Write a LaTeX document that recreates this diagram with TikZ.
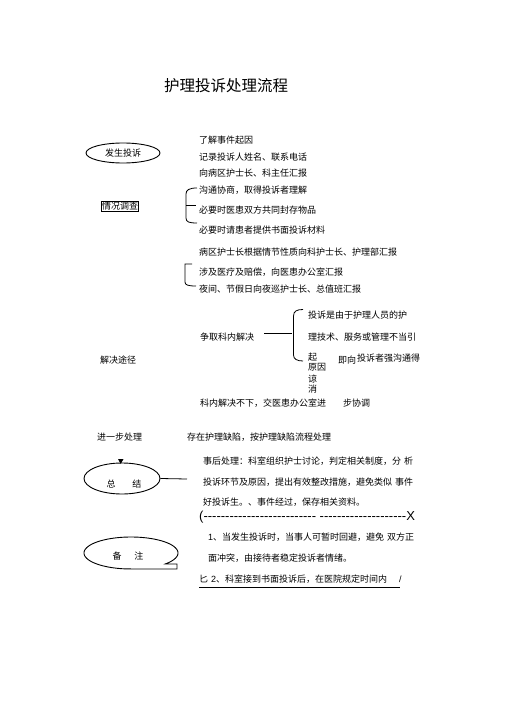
\documentclass[tikz,border=0pt]{standalone}
\usepackage{fontspec}
\setmainfont{Noto Sans CJK SC}
\newfontfamily\arialf{Liberation Sans}
\usetikzlibrary{shapes.geometric}
\begin{document}
\begin{tikzpicture}[x=1pt,y=-1pt,
  txt/.style={anchor=west,inner sep=0pt,font=\fontsize{9}{10}\selectfont},
  ln/.style={line width=0.8pt},
  oval/.style={ellipse,draw,line width=0.9pt,inner sep=0pt}]
\fill[white] (0,0) rectangle (505,714);
\useasboundingbox (0,0) rectangle (505,714);
% title
\node[inner sep=0pt,font=\fontsize{15.5}{16}\selectfont] (title) at (226,86) {护理投诉处理流程};
% left column
\node[oval,minimum width=74pt,minimum height=20pt,font=\fontsize{9}{10}\selectfont] (fasheng) at (123,153) {发生投诉};
\node[draw,line width=0.7pt,inner sep=0.8pt,font=\fontsize{9}{10}\selectfont] (qingkuang) at (120,206) {情况调查};
\node[txt] (jiejue) at (100,360) {解决途径};
\node[txt] (jinyibu) at (97,437) {进一步处理};
% right lines
\node[txt] (a1) at (199,140) {了解事件起因};
\node[txt] (a2) at (199,157) {记录投诉人姓名、联系电话};
\node[txt] (a3) at (199,173) {向病区护士长、科主任汇报};
\node[txt] (b1) at (199,190) {沟通协商，取得投诉者理解};
\node[txt] (b2) at (199,210) {必要时医患双方共同封存物品};
\node[txt] (b3) at (199,230) {必要时请患者提供书面投诉材料};
\node[txt] (c1) at (199,252) {病区护士长根据情节性质向科护士长、护理部汇报};
\node[txt] (c2) at (199,272) {涉及医疗及赔偿，向医患办公室汇报};
\node[txt] (c3) at (199,289) {夜间、节假日向夜巡护士长、总值班汇报};
% bracket 1
\draw[ln] (197,188) .. controls (189,188) and (186,190) .. (186,194) -- (186,218) .. controls (186,222) and (189,223) .. (197,223);
\draw[ln] (186,205) -- (196,205);
% bracket 2
\draw[ln] (192,264) -- (185,264) -- (185,282) .. controls (185,285) and (188,286) .. (196,286);
% zhengqu
\node[txt] (zhengqu) at (200,337) {争取科内解决};
\coordinate (bracemid) at (292,333);
\draw[ln] (264,333) -- (bracemid);
\draw[ln] (303,309.5) .. controls (297,309.5) and (293.5,311) .. (293.5,316) -- (293.5,355) .. controls (293.5,359) and (297,361) .. (303,361);
\node[txt] (d1) at (308,315) {投诉是由于护理人员的护};
\node[txt] (d2) at (308,337) {理技术、服务或管理不当引};
\node[txt] (d3) at (308,357) {起};
\node[txt] (d4) at (308,367) {原因};
\node[txt] (d5) at (338,360) {即向};
\node[txt] (d6) at (357,358) {投诉者强沟通得};
\node[txt] (d7) at (308,379) {谅};
\node[txt] (d8) at (308,389) {消};
\node[txt] (e1) at (200,403) {科内解决不下，交医患办公室进};
\node[txt] (e2) at (343,403) {步协调};
\node[txt] (f1) at (187,437) {存在护理缺陷，按护理缺陷流程处理};
% zongjie
\node[oval,minimum width=76pt,minimum height=31pt] (zongjie) at (122,478.5) {};
\node[inner sep=0pt,font=\fontsize{9}{10}\selectfont] (zjtext) at (124,484) {总\hspace{17pt}结};
\fill (118,459) -- (123.5,459) -- (120.7,464) -- cycle;
\coordinate (zjend) at (187,479);
\draw[ln] (zongjie.east) -- (zjend);
\node[txt] (g1) at (203,461) {事后处理：科室组织护士讨论，判定相关制度，分\hspace{3pt}析};
\node[txt] (g2) at (203,482) {投诉环节及原因，提出有效整改措施，避免类似\hspace{3pt}事件};
\node[txt] (g3) at (203,502) {好投诉生。、事件经过，保存相关资料。};
\node[txt,font=\arialf\fontsize{13}{14}\selectfont] (dash) at (199,517) {(-{}-{}-{}-{}-{}-{}-{}-{}-{}-{}-{}-{}-{}-{}-{}-{}-{}-{}-{}-{}-{}-{}-{}-{}-{}-{} -{}-{}-{}-{}-{}-{}-{}-{}-{}-{}-{}-{}-{}-{}-{}-{}-{}-{}-{}-{}X};
% beizhu
\draw[line width=0.9pt] (177,569) -- (177,564) -- (165.2,564) -- plot[domain=43.4:-265,samples=90] ({131+47*cos(\x)},{553+16*sin(\x)}) -- cycle;
\node[inner sep=0pt,font=\fontsize{9}{10}\selectfont] (bztext) at (128,556) {备\hspace{13pt}注};
\node[txt] (h1) at (208,537) {{\arialf 1}、当发生投诉时，当事人可暂时回避，避免\hspace{3pt}双方正};
\node[txt] (h2) at (208,558) {面冲突，由接待者稳定投诉者情绪。};
\node[txt] (h3) at (199,579) {匕\hspace{3pt}{\arialf 2}、科室接到书面投诉后，在医院规定时间内\hspace{12pt}{\arialf /}};
\draw[line width=0.7pt] (199,587) -- (400,587);
\end{tikzpicture}
\end{document}
